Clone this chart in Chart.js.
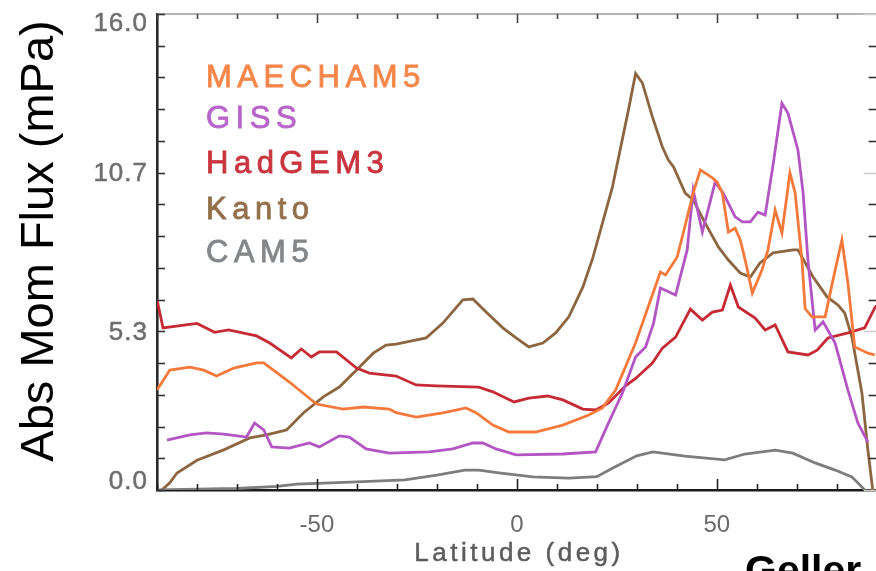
<!DOCTYPE html>
<html>
<head>
<meta charset="utf-8">
<script src="https://cdn.jsdelivr.net/npm/chart.js@4"></script>
<style>
  html, body { margin: 0; padding: 0; background: #fff; overflow: hidden; }
  #wrap { position: absolute; left: 0; top: 0; width: 880px; height: 571px; }
</style>
</head>
<body>
<div id="wrap"><canvas id="c" width="880" height="571"></canvas></div>
<script>
// Zonal-mean absolute momentum flux by latitude for each model
const maechamLat = [-90, -86.8, -81.8, -78.3, -75.1, -70.8, -65.1, -63.3, -56.9, -50.1, -43.4, -38.4, -31.9, -30.2, -25.2, -18.5, -12.7, -10.2, -6.0, -2.0, 4.7, 11.5, 18.0, 21.4, 24.7, 29.7, 35.9, 37.2, 40.1, 42.1, 44.1, 45.9, 48.9, 50.1, 51.4, 52.9, 54.6, 55.9, 57.1, 58.9, 61.3, 62.8, 64.6, 66.3, 68.3, 69.6, 71.3, 72.1, 73.8, 77.1, 79.6, 81.3, 82.8, 84.5, 87.8, 89.5];
const maechamVal = [3.36, 4.03, 4.13, 4.03, 3.83, 4.1, 4.27, 4.27, 3.63, 2.89, 2.72, 2.79, 2.72, 2.6, 2.45, 2.59, 2.76, 2.6, 2.18, 1.95, 1.95, 2.18, 2.52, 2.76, 3.36, 4.95, 7.33, 7.23, 7.83, 8.9, 9.98, 10.76, 10.49, 10.35, 9.98, 8.67, 8.8, 8.4, 7.73, 6.62, 7.39, 8.07, 9.41, 8.64, 10.66, 9.98, 7.73, 6.1, 5.82, 5.82, 7.39, 8.4, 6.96, 4.81, 4.6, 4.54];

const gissLat = [-87.5, -81.8, -77.6, -73.3, -67.6, -65.6, -63.3, -61.3, -56.9, -51.9, -49.4, -44.4, -41.9, -37.7, -31.9, -21.9, -16.0, -11.0, -8.5, -5.2, -0.2, 11.5, 19.7, 22.9, 26.4, 29.7, 32.2, 34.2, 35.9, 39.7, 42.6, 44.1, 46.4, 49.6, 51.6, 54.6, 56.4, 58.4, 60.3, 62.1, 64.0, 66.3, 67.8, 70.3, 71.6, 72.8, 74.6, 76.6, 79.6, 82.8, 85.3, 87.8];
const gissVal = [1.68, 1.85, 1.92, 1.88, 1.78, 2.25, 2.02, 1.45, 1.41, 1.58, 1.45, 1.82, 1.78, 1.38, 1.24, 1.28, 1.38, 1.58, 1.58, 1.38, 1.18, 1.21, 1.28, 2.25, 3.26, 4.47, 4.81, 5.61, 6.79, 6.55, 8.07, 10.08, 8.67, 10.35, 9.98, 9.18, 9.01, 9.01, 9.34, 9.24, 10.86, 13.0, 12.67, 11.43, 9.98, 7.73, 5.38, 5.65, 4.94, 3.36, 2.25, 1.61];

const hadgemLat = [-90, -88.5, -80.0, -75.6, -72.1, -65.1, -61.8, -56.4, -53.9, -51.4, -49.4, -45.1, -40.1, -36.9, -30.2, -25.2, -20.2, -9.5, -6.0, -0.7, 3.0, 7.7, 11.5, 16.5, 19.7, 22.9, 27.2, 29.7, 33.9, 36.4, 39.7, 43.4, 46.4, 48.9, 51.4, 53.4, 55.4, 59.6, 62.1, 64.6, 67.8, 72.8, 75.1, 77.8, 82.8, 87.0, 89.5, 90];
const hadgemVal = [6.4, 5.45, 5.6, 5.3, 5.38, 5.18, 4.94, 4.44, 4.74, 4.47, 4.64, 4.64, 4.1, 3.93, 3.83, 3.53, 3.5, 3.46, 3.3, 2.96, 3.09, 3.16, 3.03, 2.72, 2.69, 2.92, 3.5, 3.75, 4.27, 4.77, 5.14, 6.08, 5.71, 5.98, 6.05, 6.89, 6.15, 5.78, 5.38, 5.55, 4.64, 4.54, 4.7, 5.11, 5.28, 5.45, 6.12, 6.2];

const kantoLat = [-88.8, -86.8, -85.0, -80.0, -73.3, -66.8, -62.6, -57.6, -53.4, -48.4, -44.4, -40.1, -35.9, -32.7, -30.2, -22.7, -18.5, -13.5, -11.0, -7.7, -3.5, -0.2, 3.0, 6.5, 9.7, 13.0, 16.5, 19.0, 23.9, 27.9, 29.7, 31.4, 33.9, 36.4, 37.9, 39.2, 42.1, 44.1, 47.1, 50.4, 52.9, 55.9, 58.4, 60.8, 64.1, 69.1, 70.3, 74.1, 77.6, 80.3, 82.0, 83.8, 86.3, 87.8, 89.0];
const kantoVal = [0, 0.24, 0.57, 1.0, 1.35, 1.75, 1.85, 2.02, 2.59, 3.13, 3.46, 4.03, 4.6, 4.87, 4.9, 5.11, 5.61, 6.39, 6.42, 5.98, 5.45, 5.11, 4.81, 4.94, 5.28, 5.82, 6.82, 7.8, 10.18, 12.77, 14.0, 13.68, 12.54, 11.53, 11.09, 10.86, 9.98, 9.75, 8.97, 8.17, 7.73, 7.29, 7.16, 7.63, 7.97, 8.07, 8.07, 7.16, 6.49, 6.22, 5.95, 5.14, 3.26, 1.34, 0];

const cam5Lat = [-90, -70, -60, -55, -40, -28, -20, -13, -9.5, -4, 4, 13, 20, 24, 30, 34, 42, 52, 57, 64.6, 69, 74.6, 79.6, 83.8, 85.3, 87];
const cam5Val = [0, 0.05, 0.12, 0.2, 0.27, 0.34, 0.5, 0.67, 0.67, 0.57, 0.44, 0.4, 0.45, 0.74, 1.15, 1.28, 1.14, 1.01, 1.21, 1.34, 1.24, 0.91, 0.67, 0.44, 0.24, 0];

const seriesNames = ['MAECHAM5', 'GISS', 'HadGEM3', 'Kanto', 'CAM5'];
const seriesColors = ['#f4793b', '#b455c4', '#c62a35', '#8c6641', '#7d7d7d'];
const legendColors = ['#f5864a', '#b865c8', '#c9343f', '#93704c', '#84878a'];

// Axis ranges and labels
const xMin = -90, xMax = 90, xStep = 10;
const xTickLabels = ['-50', '0', '50'];
const yMax = 16, yDivisions = 15, yLabelEvery = 5;
const yTickLabels = ['0.0', '5.3', '10.7', '16.0'];
const xTitle = 'Latitude (deg)';
const yTitle = 'Abs Mom Flux (mPa)';
const creditText = 'Geller';

const lats = [maechamLat, gissLat, hadgemLat, kantoLat, cam5Lat];
const vals = [maechamVal, gissVal, hadgemVal, kantoVal, cam5Val];

const datasets = seriesNames.map((name, s) => ({
  label: name,
  data: lats[s].map((x, i) => ({ x, y: vals[s][i] })),
  borderColor: seriesColors[s],
  borderWidth: 2.8,
  pointRadius: 0,
  tension: 0,
  fill: false,
  order: s === 3 ? 5 : s
}));

const TEXT_FONT = '"Liberation Sans", Arial, sans-serif';

// Fill text and trace it with a thin outline of the same colour for a medium weight
function heavyText(ctx, text, x, y, weight) {
  ctx.fillText(text, x, y);
  ctx.strokeStyle = ctx.fillStyle;
  ctx.lineWidth = weight;
  ctx.strokeText(text, x, y);
}

// Frame, inward tick marks, labels, legend and titles
const framePlugin = {
  id: 'frame',
  afterDraw(chart) {
    const { ctx, chartArea: a, scales } = chart;
    const xs = scales.x, ys = scales.y;
    ctx.save();

    // top border
    ctx.strokeStyle = '#9b9b9b';
    ctx.lineWidth = 1.6;
    ctx.beginPath();
    ctx.moveTo(a.left, a.top);
    ctx.lineTo(a.right + 2, a.top);
    ctx.stroke();

    // x ticks (bottom and top)
    for (let v = xMin; v <= xMax; v += xStep) {
      const px = Math.round(xs.getPixelForValue(v)) + 0.5;
      const major = xTickLabels.includes(String(v));
      ctx.strokeStyle = '#222';
      ctx.lineWidth = 1.6;
      ctx.beginPath();
      ctx.moveTo(px, a.bottom);
      ctx.lineTo(px, a.bottom - (major ? 11 : 6));
      ctx.stroke();
      ctx.strokeStyle = '#444';
      ctx.beginPath();
      ctx.moveTo(px, a.top);
      ctx.lineTo(px, a.top + (major ? 9 : 5));
      ctx.stroke();
    }

    // y ticks (left and right)
    for (let i = 0; i <= yDivisions; i++) {
      const v = i * yMax / yDivisions;
      const py = Math.round(ys.getPixelForValue(v)) + 0.5;
      const major = i % yLabelEvery === 0;
      ctx.strokeStyle = '#333';
      ctx.lineWidth = 1.6;
      ctx.beginPath();
      ctx.moveTo(a.left, py);
      ctx.lineTo(a.left + 8, py);
      ctx.stroke();
      ctx.strokeStyle = major ? '#cfcfcf' : '#333';
      ctx.beginPath();
      ctx.moveTo(a.right, py);
      ctx.lineTo(a.right - (major ? 13 : 8), py);
      ctx.stroke();
    }

    // y tick labels, kept inside the plot height
    ctx.fillStyle = '#6e6e6e';
    ctx.font = '26px ' + TEXT_FONT;
    ctx.letterSpacing = '1px';
    ctx.textAlign = 'right';
    ctx.textBaseline = 'middle';
    for (let k = 0; k < yTickLabels.length; k++) {
      const v = k * yLabelEvery * yMax / yDivisions;
      let py = ys.getPixelForValue(v);
      py = Math.min(Math.max(py, a.top + 9), a.bottom - 9);
      heavyText(ctx, yTickLabels[k], a.left - 9, py + 1, 0.5);
    }

    // x axis title
    ctx.fillStyle = '#5c5c5c';
    ctx.font = '26px ' + TEXT_FONT;
    ctx.letterSpacing = '3.5px';
    ctx.textAlign = 'center';
    ctx.textBaseline = 'alphabetic';
    heavyText(ctx, xTitle, 519, 561, 0.5);

    // legend as coloured names
    ctx.font = '31px ' + TEXT_FONT;
    ctx.letterSpacing = '5.5px';
    ctx.textAlign = 'left';
    const baselines = [87, 128, 173, 219, 262];
    seriesNames.forEach((name, s) => {
      ctx.fillStyle = legendColors[s];
      heavyText(ctx, name, 206, baselines[s], 0.8);
    });

    // y axis title
    ctx.letterSpacing = '0px';
    ctx.fillStyle = '#000';
    ctx.font = '47px ' + TEXT_FONT;
    ctx.textAlign = 'center';
    ctx.translate(53, 241);
    ctx.rotate(-Math.PI / 2);
    ctx.fillText(yTitle, 0, 0);
    ctx.setTransform(1, 0, 0, 1, 0, 0);

    // credit line at the bottom right
    ctx.font = 'bold 41px ' + TEXT_FONT;
    ctx.textAlign = 'left';
    ctx.fillText(creditText, 745, 584);

    ctx.restore();
  }
};

new Chart(document.getElementById('c'), {
  type: 'line',
  data: { datasets },
  options: {
    responsive: false,
    animation: false,
    devicePixelRatio: 1,
    layout: { padding: { top: 14, right: 3.3, left: 0, bottom: 0 } },
    plugins: { legend: { display: false }, tooltip: { enabled: false } },
    scales: {
      x: {
        type: 'linear',
        min: xMin,
        max: xMax,
        grid: { display: false },
        border: { display: true, color: '#1a1a1a', width: 2.6 },
        afterBuildTicks(scale) {
          const t = [];
          for (let v = xMin; v <= xMax; v += xStep) t.push({ value: v });
          scale.ticks = t;
        },
        ticks: {
          autoSkip: false,
          maxRotation: 0,
          padding: 13,
          color: '#6a6a6a',
          font: { family: TEXT_FONT, size: 24 },
          callback: (v) => (xTickLabels.includes(String(v)) ? String(v) : '')
        },
        afterFit(scale) {
          scale.height = 81;
          scale.paddingLeft = 0;
          scale.paddingRight = 0;
        }
      },
      y: {
        type: 'linear',
        min: 0,
        max: yMax,
        grid: { display: false },
        border: { display: true, color: '#2a2a2a', width: 2.6 },
        afterBuildTicks(scale) {
          const t = [];
          for (let i = 0; i <= yDivisions; i++) t.push({ value: i * yMax / yDivisions });
          scale.ticks = t;
        },
        ticks: { display: false },
        afterFit(scale) {
          scale.width = 157;
          scale.paddingTop = 0;
          scale.paddingBottom = 0;
        }
      }
    }
  },
  plugins: [framePlugin]
});
</script>
</body>
</html>
